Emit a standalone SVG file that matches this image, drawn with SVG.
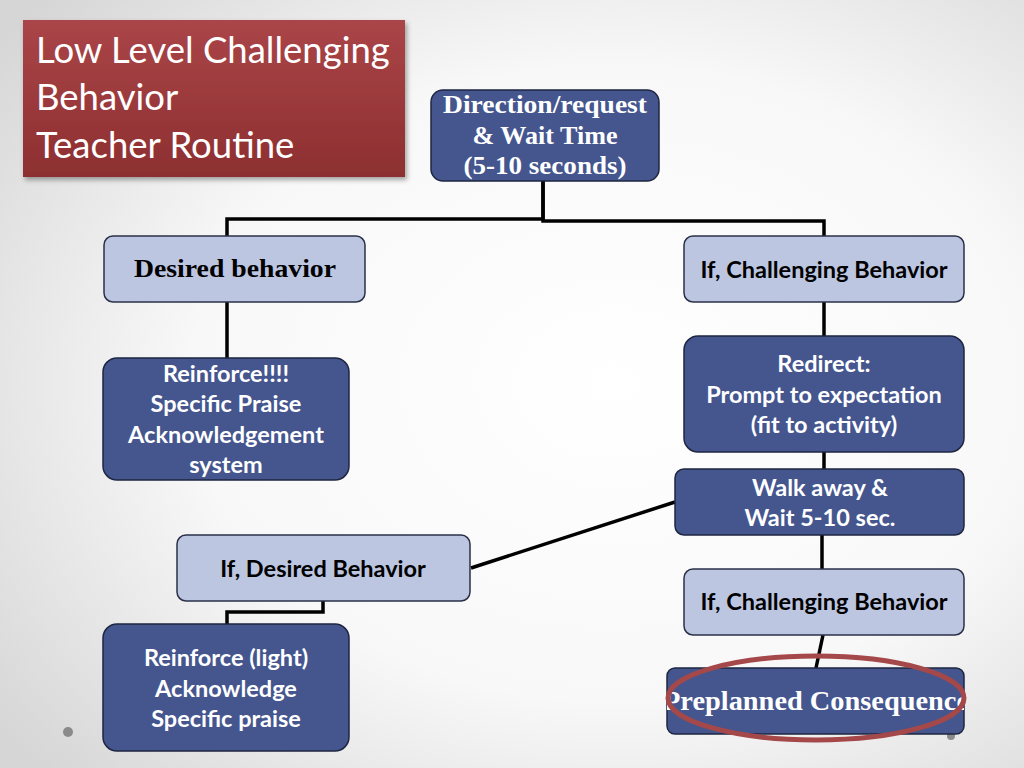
<svg xmlns="http://www.w3.org/2000/svg" width="1024" height="768" viewBox="0 0 1024 768">
<defs>
  <radialGradient id="bg" cx="0.6" cy="0.5" r="0.75">
    <stop offset="0" stop-color="#ffffff"/>
    <stop offset="0.55" stop-color="#f8f8f8"/>
    <stop offset="1" stop-color="#d6d6d6"/>
  </radialGradient>
  <linearGradient id="red" x1="0" y1="0" x2="0" y2="1">
    <stop offset="0" stop-color="#aa4548"/>
    <stop offset="1" stop-color="#8d2f31"/>
  </linearGradient>
  <filter id="shadow" x="-10%" y="-10%" width="125%" height="130%">
    <feDropShadow dx="2" dy="3" stdDeviation="2.5" flood-color="#000" flood-opacity="0.35"/>
  </filter>
  <clipPath id="clipPre"><rect x="667" y="668" width="297" height="66" rx="8"/></clipPath>
  <style>
    .dark { fill: #45568f; stroke: #1e2640; stroke-width: 1.5; }
    .light { fill: #bcc6e1; stroke: #2a3048; stroke-width: 1.5; }
    .conn { fill: none; stroke: #000; stroke-width: 3.5; stroke-linejoin: miter; }
    .sw { font-family: Lato, "Open Sans", "Liberation Sans", sans-serif; font-weight: bold; font-size: 23.5px; fill: #fff; text-anchor: middle; }
    .sb { font-family: Lato, "Open Sans", "Liberation Sans", sans-serif; font-weight: bold; font-size: 23.5px; fill: #000; text-anchor: middle; }
    .serw { font-family: "Liberation Serif", "DejaVu Serif", serif; font-weight: bold; font-size: 26px; fill: #fff; text-anchor: middle; }
    .title { font-family: Lato, "Open Sans", "Liberation Sans", sans-serif; font-size: 36.5px; fill: #fff; }
  </style>
</defs>
<rect width="1024" height="768" fill="url(#bg)"/>
<circle cx="68" cy="732" r="5" fill="#8a8a8a"/>
<circle cx="951" cy="736" r="4" fill="#8a8a8a"/>

<g id="title">
  <rect x="23" y="20" width="382" height="157" fill="url(#red)" filter="url(#shadow)"/>
  <text class="title" x="36" y="63">Low Level Challenging</text>
  <text class="title" x="36" y="110">Behavior</text>
  <text class="title" x="36" y="158">Teacher Routine</text>
</g>

<g id="connectors">
  <polyline class="conn" points="543,181 543,219 227,219 227,236"/>
  <polyline class="conn" points="543,181 543,221 824,221 824,236"/>
  <line class="conn" x1="227" y1="302" x2="227" y2="358"/>
  <line class="conn" x1="824" y1="302" x2="824" y2="336"/>
  <line class="conn" x1="824" y1="452" x2="824" y2="469"/>
  <line class="conn" x1="822" y1="535" x2="822" y2="569"/>
  <line class="conn" x1="823" y1="635" x2="816" y2="668"/>
  <line class="conn" x1="675" y1="502" x2="471" y2="568"/>
  <polyline class="conn" points="323,601 323,612 227,612 227,624"/>
</g>

<g id="n-direction">
  <rect class="dark" x="431" y="90" width="228" height="91" rx="12"/>
  <text class="serw" x="545" y="113" textLength="204" lengthAdjust="spacingAndGlyphs">Direction/request</text>
  <text class="serw" x="545" y="144" textLength="145" lengthAdjust="spacingAndGlyphs">&amp; Wait Time</text>
  <text class="serw" x="545" y="174" textLength="163" lengthAdjust="spacingAndGlyphs">(5-10 seconds)</text>
</g>

<g id="n-desired">
  <rect class="light" x="104" y="236" width="261" height="66" rx="9"/>
  <text x="235" y="277" textLength="202" lengthAdjust="spacingAndGlyphs" style="font-family:'Liberation Serif','DejaVu Serif',serif;font-weight:bold;font-size:25px;fill:#000;text-anchor:middle">Desired behavior</text>
</g>

<g id="n-challenging1">
  <rect class="light" x="684" y="236" width="280" height="66" rx="9"/>
  <text class="sb" x="824" y="278">If, Challenging Behavior</text>
</g>

<g id="n-reinforce">
  <rect class="dark" x="103" y="358" width="246" height="122" rx="14"/>
  <text class="sw" x="226" y="382">Reinforce!!!!</text>
  <text class="sw" x="226" y="412">Specific Praise</text>
  <text class="sw" x="226" y="443">Acknowledgement</text>
  <text class="sw" x="226" y="473">system</text>
</g>

<g id="n-redirect">
  <rect class="dark" x="684" y="336" width="280" height="116" rx="14"/>
  <text class="sw" x="824" y="372">Redirect:</text>
  <text class="sw" x="824" y="403">Prompt to expectation</text>
  <text class="sw" x="824" y="433">(fit to activity)</text>
</g>

<g id="n-walkaway">
  <rect class="dark" x="675" y="469" width="289" height="66" rx="9"/>
  <text class="sw" x="820" y="496">Walk away &amp;</text>
  <text class="sw" x="820" y="526">Wait 5-10 sec.</text>
</g>

<g id="n-ifdesired">
  <rect class="light" x="177" y="535" width="293" height="66" rx="9"/>
  <text class="sb" x="323" y="577">If, Desired Behavior</text>
</g>

<g id="n-challenging2">
  <rect class="light" x="684" y="569" width="280" height="66" rx="9"/>
  <text class="sb" x="824" y="610">If, Challenging Behavior</text>
</g>

<g id="n-reinforce-light">
  <rect class="dark" x="103" y="624" width="246" height="127" rx="14"/>
  <text class="sw" x="226" y="666">Reinforce (light)</text>
  <text class="sw" x="226" y="697">Acknowledge</text>
  <text class="sw" x="226" y="727">Specific praise</text>
</g>

<g id="n-preplanned">
  <rect class="dark" x="667" y="668" width="297" height="66" rx="8"/>
  <text clip-path="url(#clipPre)" x="816" y="710" textLength="306" lengthAdjust="spacingAndGlyphs" style="font-family:'Liberation Serif','DejaVu Serif',serif;font-size:27px;font-weight:bold;fill:#fff;text-anchor:middle">Preplanned Consequence</text>
  <ellipse cx="816" cy="698" rx="148" ry="42" fill="none" stroke="#a5484a" stroke-width="5"/>
</g>
</svg>
